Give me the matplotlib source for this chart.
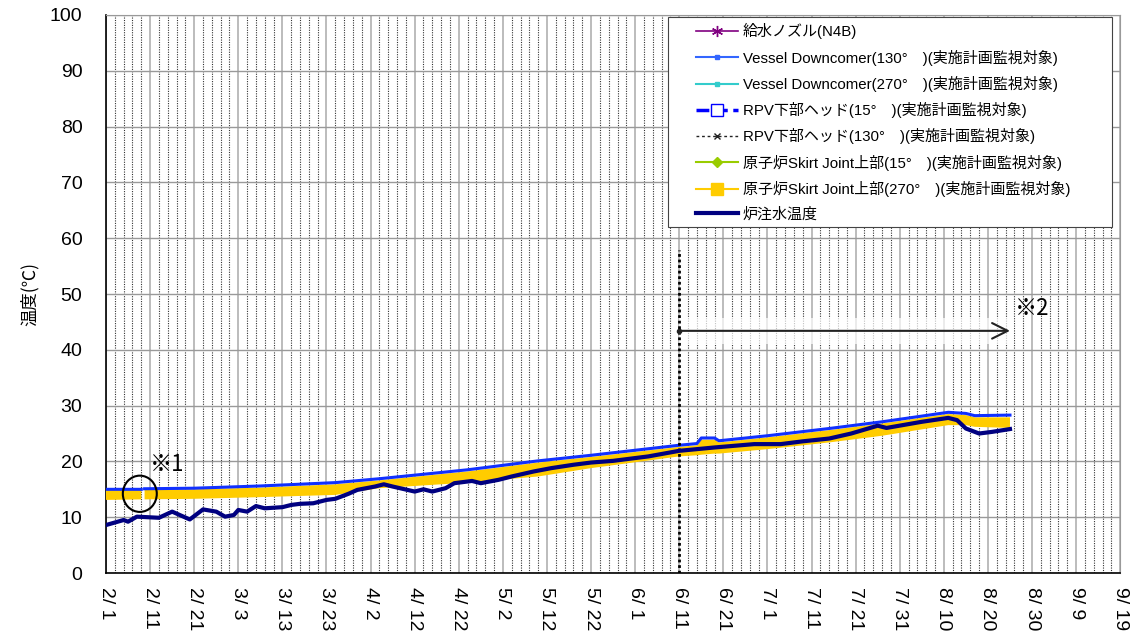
import matplotlib
matplotlib.use("Agg")
import matplotlib.pyplot as plt
import matplotlib.dates as mdates
from matplotlib.lines import Line2D
from matplotlib.patches import Ellipse, Rectangle
from matplotlib.ticker import FixedLocator, FuncFormatter
import numpy as np
import pandas as pd

plt.rcParams["font.family"] = ["Liberation Sans", "Noto Sans CJK JP"]

# --- data -------------------------------------------------------------------
# 炉注水温度
inject_dates = [
    "2013-02-01", "2013-02-05", "2013-02-06", "2013-02-08", "2013-02-13",
    "2013-02-16", "2013-02-20", "2013-02-23", "2013-02-26", "2013-02-28",
    "2013-03-02", "2013-03-03", "2013-03-05", "2013-03-07", "2013-03-09",
    "2013-03-13", "2013-03-15", "2013-03-17", "2013-03-20", "2013-03-23",
    "2013-03-25", "2013-03-28", "2013-03-30", "2013-04-03", "2013-04-05",
    "2013-04-07", "2013-04-12", "2013-04-14", "2013-04-16", "2013-04-19",
    "2013-04-21", "2013-04-25", "2013-04-27", "2013-05-01", "2013-05-04",
    "2013-05-09", "2013-05-13", "2013-05-18", "2013-05-22", "2013-05-27",
    "2013-06-04", "2013-06-11", "2013-06-19", "2013-06-28", "2013-07-04",
    "2013-07-09", "2013-07-15", "2013-07-20", "2013-07-26", "2013-07-28",
    "2013-08-05", "2013-08-11", "2013-08-13", "2013-08-15", "2013-08-18",
    "2013-08-21", "2013-08-25",
]
inject_temp = [
    8.6, 9.5, 9.2, 10.1, 9.9,
    11.0, 9.6, 11.4, 11.0, 10.1,
    10.4, 11.3, 11.0, 12.0, 11.6,
    11.8, 12.2, 12.4, 12.5, 13.1,
    13.3, 14.2, 14.9, 15.5, 15.9,
    15.5, 14.6, 15.0, 14.6, 15.2,
    16.1, 16.5, 16.1, 16.7, 17.3,
    18.2, 18.8, 19.4, 19.8, 20.1,
    20.9, 21.9, 22.5, 23.1, 23.1,
    23.6, 24.1, 25.0, 26.4, 26.0,
    27.1, 27.8, 27.4, 25.9, 25.0,
    25.3, 25.8,
]

# Vessel Downcomer(130°) and 原子炉Skirt Joint上部(270°) daily band
vessel_dates = [
    "2013-02-01 00:00", "2013-02-09 00:00", "2013-02-09 09:00", "2013-02-09 18:00",
    "2013-02-21 00:00", "2013-03-08 00:00", "2013-03-25 00:00", "2013-04-04 00:00",
    "2013-04-24 00:00", "2013-05-10 00:00", "2013-05-22 00:00", "2013-06-11 00:00",
    "2013-06-15 00:00", "2013-06-16 00:00", "2013-06-19 00:00", "2013-06-20 00:00",
    "2013-07-01 00:00", "2013-07-15 00:00", "2013-07-27 00:00", "2013-08-11 00:00",
    "2013-08-15 00:00", "2013-08-17 00:00", "2013-08-25 00:00",
]
downcomer130 = [
    15.0, 15.0, np.nan, 15.1,
    15.2, 15.6, 16.2, 16.9,
    18.5, 20.1, 21.1, 22.9,
    23.2, 24.2, 24.2, 23.7,
    24.6, 25.9, 27.1, 28.8,
    28.6, 28.2, 28.3,
]
skirt270_low = [
    13.1, 13.2, np.nan, 13.2,
    13.3, 13.6, 14.0, 15.2,
    16.2, 17.3, 18.8, 20.9,
    21.1, 21.2, 21.4, 21.4,
    22.2, 23.4, 24.6, 26.5,
    26.5, 26.2, 26.0,
]
skirt270_high = [
    14.9, 14.9, np.nan, 15.0,
    15.0, 15.3, 15.9, 16.6,
    18.2, 19.8, 20.8, 22.6,
    22.9, 23.9, 23.9, 23.4,
    24.3, 25.6, 26.8, 28.5,
    28.3, 27.9, 27.9,
]

labels = [
    "給水ノズル(N4B)",
    "Vessel Downcomer(130°\u3000)(実施計画監視対象)",
    "Vessel Downcomer(270°\u3000)(実施計画監視対象)",
    "RPV下部ヘッド(15°\u3000)(実施計画監視対象)",
    "RPV下部ヘッド(130°\u3000)(実施計画監視対象)",
    "原子炉Skirt Joint上部(15°\u3000)(実施計画監視対象)",
    "原子炉Skirt Joint上部(270°\u3000)(実施計画監視対象)",
    "炉注水温度",
]

x_start, x_end = "2013-02-01", "2013-09-19"
period_start, period_end = "2013-06-11", "2013-08-25"

# --- figure -----------------------------------------------------------------
fig = plt.figure(figsize=(11.46, 6.35), dpi=100)
ax = fig.add_axes([0.0925, 0.0976, 0.885, 0.8788])

t_inj = pd.to_datetime(inject_dates)
t_ves = pd.to_datetime(vessel_dates, format="%Y-%m-%d %H:%M")

ax.fill_between(t_ves, skirt270_low, skirt270_high, color="#ffcc00",
                lw=0, zorder=3)
ax.plot(t_ves, downcomer130, color="#1030ff", lw=2.2, zorder=4)
ax.plot(t_inj, inject_temp, color="#000080", lw=3.0, zorder=5)

# 監視期間 marker
p0, p1 = pd.Timestamp(period_start), pd.Timestamp(period_end)
ax.plot([p0, p0], [0, 57.9], color="black", lw=2, dashes=(1, 1), zorder=4)
ax.add_patch(Rectangle((mdates.date2num(p0), 41.0),
                       mdates.date2num(p1) - mdates.date2num(p0) + 1.0, 4.7,
                       facecolor="white", alpha=0.7, lw=0, zorder=3))
ax.annotate("", xy=(p1, 43.4), xytext=(p0, 43.4),
            arrowprops=dict(arrowstyle="->", lw=1.5, color="#222222",
                            mutation_scale=28, shrinkA=0, shrinkB=0),
            zorder=6)
ax.plot([p0], [43.4], "o", color="#222222", ms=3, zorder=6)
ax.text(pd.Timestamp("2013-08-26"), 45.3, "※2", fontsize=16,
        family="Noto Sans CJK JP", ha="left", va="bottom", zorder=6)

ax.add_patch(Ellipse((mdates.date2num(pd.Timestamp("2013-02-08 16:00")), 14.2),
                     7.7, 6.5, fill=False, edgecolor="black", lw=1.5, zorder=6))
ax.text(pd.Timestamp("2013-02-11"), 17.4, "※1", fontsize=16,
        family="Noto Sans CJK JP", ha="left", va="bottom", zorder=6)

# axes
ax.set_xlim(pd.Timestamp(x_start), pd.Timestamp(x_end))
ax.set_ylim(0, 100)
major = pd.date_range(x_start, x_end, freq="10D")
minor = pd.date_range(x_start, x_end, freq="2D")
ax.xaxis.set_major_locator(FixedLocator(mdates.date2num(major)))
ax.xaxis.set_minor_locator(FixedLocator(mdates.date2num(minor)))
ax.xaxis.set_major_formatter(
    FuncFormatter(lambda v, _: f"{mdates.num2date(v).month}/ {mdates.num2date(v).day}"))
ax.set_yticks(np.arange(0, 101, 10))
ax.tick_params(axis="both", which="both", length=0, labelsize=14)
ax.tick_params(axis="x", pad=10, labelrotation=-90)
ax.tick_params(axis="y", pad=17)

ax.grid(axis="x", which="minor", color="#333333", lw=0.8, dashes=(1, 1.2), zorder=1)
ax.grid(axis="x", which="major", color="#aaaaaa", lw=1.1, ls="-", zorder=1)
ax.grid(axis="y", which="major", color="#999999", lw=1.0, ls="-", zorder=1)
ax.set_axisbelow(True)
for side in ("left", "bottom"):
    ax.spines[side].set_color("black")
    ax.spines[side].set_linewidth(1.2)
for side in ("top", "right"):
    ax.spines[side].set_color("#999999")

ax.set_ylabel("温度(℃)", fontsize=12.5, family="Noto Sans CJK JP", labelpad=8)

# legend
handles = [
    Line2D([], [], color="#800080", lw=1.2, marker=(6, 2, 0), ms=8),
    Line2D([], [], color="#3366ff", lw=1.5, marker="s", ms=3),
    Line2D([], [], color="#33cccc", lw=1.5, marker="s", ms=3),
    Line2D([], [], color="#0000ff", lw=2.5, ls="--", marker="s", ms=8,
           markerfacecolor="white", markeredgecolor="#0000ff"),
    Line2D([], [], color="#222222", lw=1.0, dashes=(2, 2), marker="x", ms=5),
    Line2D([], [], color="#99cc00", lw=1.5, marker="D", ms=5),
    Line2D([], [], color="#ffcc00", lw=1.5, marker="s", ms=8),
    Line2D([], [], color="#000080", lw=3),
]
ax.add_patch(Rectangle((0.554, 0.62), 0.438, 0.376, transform=ax.transAxes,
                       facecolor="white", edgecolor="#444444", lw=0.8, zorder=7))
leg = ax.legend(handles, labels, loc="upper left", bbox_to_anchor=(0.582, 0.985),
                frameon=False, fontsize=10.8, handlelength=2.8, handletextpad=0.3,
                labelspacing=0.68, borderpad=0, borderaxespad=0)
leg.set_zorder(8)

fig.savefig("out.png", dpi=100)
